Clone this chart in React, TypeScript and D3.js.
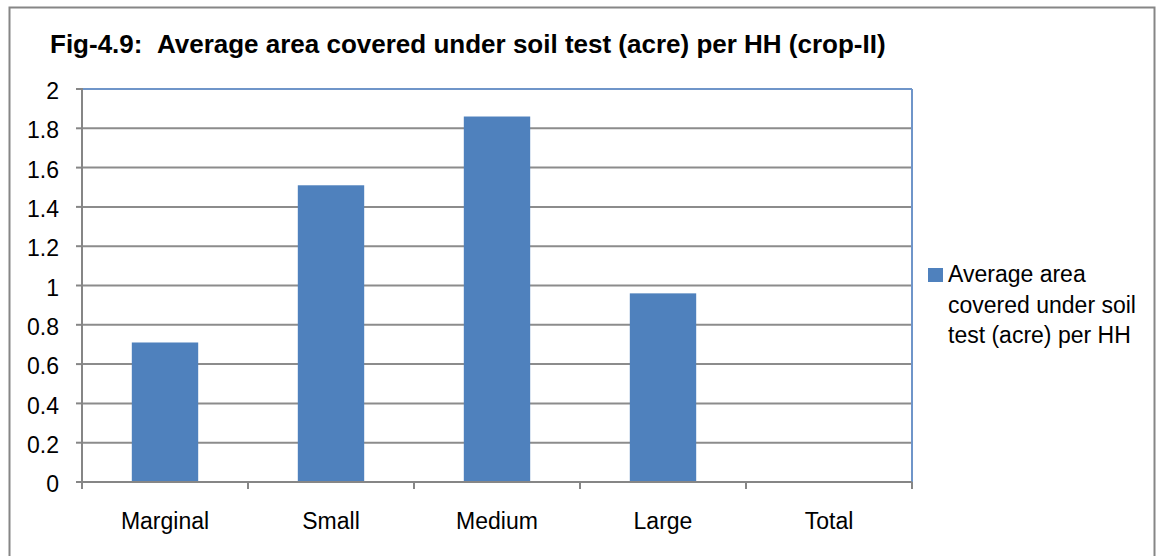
import React from "react";
import { scaleBand, scaleLinear, range } from "d3";

// data
const categories = ["Marginal", "Small", "Medium", "Large", "Total"];
const values = [0.71, 1.51, 1.86, 0.96, 0];
const yTicks = [0, 0.2, 0.4, 0.6, 0.8, 1, 1.2, 1.4, 1.6, 1.8, 2];
const legendLines = ["Average area", "covered under soil", "test (acre) per HH"];
const title = "Fig-4.9:\u00a0\u00a0Average area covered under soil test (acre) per HH (crop-II)";

const W = 1157;
const H = 556;
const font = "'Liberation Sans', Arial, sans-serif";

const App = () => {
  const m = { left: 82, right: 912, top: 89, bottom: 482 };
  const x = scaleBand().domain(categories).range([m.left, m.right]).paddingInner(0).paddingOuter(0);
  const y = scaleLinear().domain([0, 2]).range([m.bottom, m.top]);
  const bw = x.bandwidth() * 0.4;

  return (
    <div style={{ position: "absolute", left: 0, top: 0 }}>
      <svg width={W} height={H} style={{ display: "block", fontFamily: font }}>
        <rect x={0} y={0} width={W} height={H} fill="#fff" />
        <rect x={9.5} y={7.5} width={W - 12} height={H} fill="none" stroke="#868686" strokeWidth={2} />
        <text x={50} y={53} fontSize={26} fontWeight={700} fill="#000">
          {title}
        </text>

        {/* gridlines */}
        {yTicks.slice(1).map((t) => (
          <line key={t} x1={m.left} x2={m.right} y1={y(t)} y2={y(t)} stroke="#8c8c8c" strokeWidth={2} />
        ))}

        {/* bars */}
        {categories.map((c, i) =>
          values[i] > 0 ? (
            <rect
              key={c}
              x={(x(c) as number) + (x.bandwidth() - bw) / 2}
              y={y(values[i])}
              width={bw}
              height={y(0) - y(values[i])}
              fill="#4f81bd"
            />
          ) : null
        )}

        {/* plot border top/right */}
        <line x1={m.left} x2={m.right} y1={m.top} y2={m.top} stroke="#6f95c9" strokeWidth={2} />
        <line x1={m.right} x2={m.right} y1={m.top} y2={m.bottom} stroke="#6f95c9" strokeWidth={2} />

        {/* y axis */}
        <line x1={m.left} x2={m.left} y1={m.top - 1} y2={m.bottom + 1} stroke="#868686" strokeWidth={2} />
        {yTicks.map((t) => (
          <g key={t}>
            <line x1={m.left - 6} x2={m.left} y1={y(t)} y2={y(t)} stroke="#868686" strokeWidth={2} />
            <text x={59} y={y(t)} dy="0.44em" textAnchor="end" fontSize={23} fill="#000">
              {String(t)}
            </text>
          </g>
        ))}

        {/* x axis */}
        <line x1={m.left} x2={m.right} y1={m.bottom} y2={m.bottom} stroke="#868686" strokeWidth={2} />
        {range(categories.length + 1).map((i) => {
          const xx = m.left + i * x.bandwidth();
          return <line key={i} x1={xx} x2={xx} y1={m.bottom} y2={m.bottom + 7} stroke="#868686" strokeWidth={2} />;
        })}
        {categories.map((c) => (
          <text key={c} x={(x(c) as number) + x.bandwidth() / 2} y={529} textAnchor="middle" fontSize={23} fill="#000">
            {c}
          </text>
        ))}

        {/* legend */}
        <rect x={928} y={268} width={15} height={14} fill="#4f81bd" />
        {legendLines.map((l, i) => (
          <text key={l} x={948} y={282 + i * 30.5} fontSize={23} fill="#000">
            {l}
          </text>
        ))}
      </svg>
    </div>
  );
};

export default App;
